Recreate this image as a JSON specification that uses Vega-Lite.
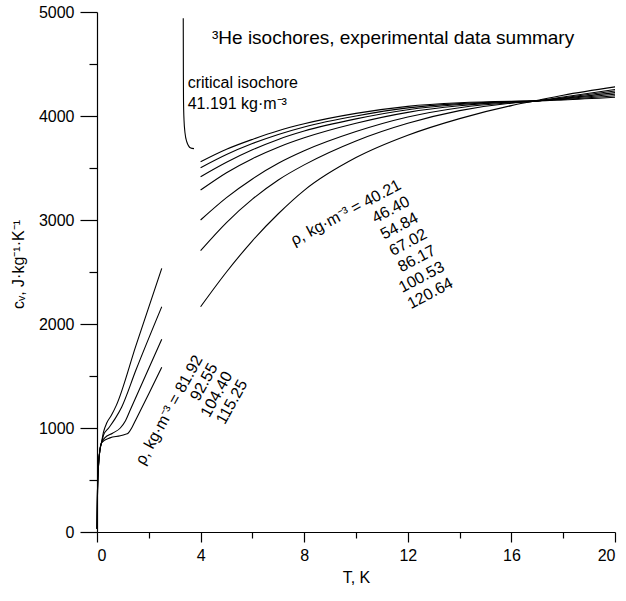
{
  "$schema": "https://vega.github.io/schema/vega-lite/v6.json",
  "width": 518,
  "height": 520,
  "autosize": {"type": "none"},
  "padding": {"left": 97, "top": 12, "right": 11, "bottom": 69},
  "background": "white",
  "config": {
    "view": {"stroke": null},
    "font": "Liberation Sans",
    "axis": {
      "grid": false,
      "domainColor": "black",
      "tickColor": "black",
      "labelColor": "black",
      "titleColor": "black",
      "labelFont": "Liberation Sans",
      "titleFont": "Liberation Sans",
      "labelFontSize": 16,
      "titleFontSize": 16,
      "titleFontWeight": "normal",
      "domainWidth": 1.2,
      "tickWidth": 1.2
    }
  },
  "datasets": {
    "high": [
      {"series": "40.21", "T": 4, "cv": 3560}, {"series": "40.21", "T": 5, "cv": 3680}, {"series": "40.21", "T": 6, "cv": 3775}, {"series": "40.21", "T": 7, "cv": 3858}, {"series": "40.21", "T": 8, "cv": 3925}, {"series": "40.21", "T": 10, "cv": 4025}, {"series": "40.21", "T": 12, "cv": 4093}, {"series": "40.21", "T": 14, "cv": 4127}, {"series": "40.21", "T": 16, "cv": 4142}, {"series": "40.21", "T": 16.8, "cv": 4145}, {"series": "40.21", "T": 18, "cv": 4155}, {"series": "40.21", "T": 20, "cv": 4180},
      {"series": "46.40", "T": 4, "cv": 3503}, {"series": "46.40", "T": 5, "cv": 3630}, {"series": "46.40", "T": 6, "cv": 3735}, {"series": "46.40", "T": 7, "cv": 3823}, {"series": "46.40", "T": 8, "cv": 3895}, {"series": "46.40", "T": 10, "cv": 4000}, {"series": "46.40", "T": 12, "cv": 4078}, {"series": "46.40", "T": 14, "cv": 4119}, {"series": "46.40", "T": 16, "cv": 4140}, {"series": "46.40", "T": 16.8, "cv": 4144}, {"series": "46.40", "T": 18, "cv": 4160}, {"series": "46.40", "T": 20, "cv": 4195},
      {"series": "54.84", "T": 4, "cv": 3416}, {"series": "54.84", "T": 5, "cv": 3555}, {"series": "54.84", "T": 6, "cv": 3675}, {"series": "54.84", "T": 7, "cv": 3775}, {"series": "54.84", "T": 8, "cv": 3855}, {"series": "54.84", "T": 10, "cv": 3972}, {"series": "54.84", "T": 12, "cv": 4060}, {"series": "54.84", "T": 14, "cv": 4110}, {"series": "54.84", "T": 16, "cv": 4137}, {"series": "54.84", "T": 16.8, "cv": 4143}, {"series": "54.84", "T": 18, "cv": 4165}, {"series": "54.84", "T": 20, "cv": 4210},
      {"series": "67.02", "T": 4, "cv": 3288}, {"series": "67.02", "T": 5, "cv": 3455}, {"series": "67.02", "T": 6, "cv": 3590}, {"series": "67.02", "T": 7, "cv": 3700}, {"series": "67.02", "T": 8, "cv": 3790}, {"series": "67.02", "T": 10, "cv": 3930}, {"series": "67.02", "T": 12, "cv": 4035}, {"series": "67.02", "T": 14, "cv": 4098}, {"series": "67.02", "T": 16, "cv": 4134}, {"series": "67.02", "T": 16.8, "cv": 4142}, {"series": "67.02", "T": 18, "cv": 4170}, {"series": "67.02", "T": 20, "cv": 4225},
      {"series": "86.17", "T": 4, "cv": 3000}, {"series": "86.17", "T": 5, "cv": 3215}, {"series": "86.17", "T": 6, "cv": 3395}, {"series": "86.17", "T": 7, "cv": 3545}, {"series": "86.17", "T": 8, "cv": 3665}, {"series": "86.17", "T": 10, "cv": 3850}, {"series": "86.17", "T": 12, "cv": 3990}, {"series": "86.17", "T": 14, "cv": 4080}, {"series": "86.17", "T": 16, "cv": 4128}, {"series": "86.17", "T": 16.8, "cv": 4140}, {"series": "86.17", "T": 18, "cv": 4175}, {"series": "86.17", "T": 20, "cv": 4240},
      {"series": "100.53", "T": 4, "cv": 2705}, {"series": "100.53", "T": 5, "cv": 2975}, {"series": "100.53", "T": 6, "cv": 3200}, {"series": "100.53", "T": 7, "cv": 3385}, {"series": "100.53", "T": 8, "cv": 3530}, {"series": "100.53", "T": 10, "cv": 3760}, {"series": "100.53", "T": 12, "cv": 3930}, {"series": "100.53", "T": 14, "cv": 4052}, {"series": "100.53", "T": 16, "cv": 4124}, {"series": "100.53", "T": 16.8, "cv": 4140}, {"series": "100.53", "T": 18, "cv": 4182}, {"series": "100.53", "T": 20, "cv": 4255},
      {"series": "120.64", "T": 4, "cv": 2166}, {"series": "120.64", "T": 5, "cv": 2500}, {"series": "120.64", "T": 6, "cv": 2800}, {"series": "120.64", "T": 7, "cv": 3060}, {"series": "120.64", "T": 8, "cv": 3285}, {"series": "120.64", "T": 10, "cv": 3600}, {"series": "120.64", "T": 12, "cv": 3815}, {"series": "120.64", "T": 14, "cv": 3975}, {"series": "120.64", "T": 16, "cv": 4100}, {"series": "120.64", "T": 16.8, "cv": 4140}, {"series": "120.64", "T": 18, "cv": 4200}, {"series": "120.64", "T": 20, "cv": 4280}
    ],
    "low": [
      {"series": "81.92", "T": 0, "cv": 30}, {"series": "81.92", "T": 0.02, "cv": 400}, {"series": "81.92", "T": 0.06, "cv": 650}, {"series": "81.92", "T": 0.12, "cv": 800}, {"series": "81.92", "T": 0.18, "cv": 870}, {"series": "81.92", "T": 0.25, "cv": 960}, {"series": "81.92", "T": 0.38, "cv": 1050}, {"series": "81.92", "T": 0.55, "cv": 1120}, {"series": "81.92", "T": 0.75, "cv": 1220}, {"series": "81.92", "T": 1.5, "cv": 1790}, {"series": "81.92", "T": 2.5, "cv": 2535},
      {"series": "92.55", "T": 0, "cv": 30}, {"series": "92.55", "T": 0.02, "cv": 400}, {"series": "92.55", "T": 0.06, "cv": 650}, {"series": "92.55", "T": 0.12, "cv": 800}, {"series": "92.55", "T": 0.18, "cv": 860}, {"series": "92.55", "T": 0.25, "cv": 930}, {"series": "92.55", "T": 0.45, "cv": 1000}, {"series": "92.55", "T": 0.7, "cv": 1090}, {"series": "92.55", "T": 0.95, "cv": 1200}, {"series": "92.55", "T": 1.5, "cv": 1555}, {"series": "92.55", "T": 2.5, "cv": 2166},
      {"series": "104.40", "T": 0, "cv": 30}, {"series": "104.40", "T": 0.02, "cv": 400}, {"series": "104.40", "T": 0.06, "cv": 650}, {"series": "104.40", "T": 0.12, "cv": 800}, {"series": "104.40", "T": 0.18, "cv": 860}, {"series": "104.40", "T": 0.3, "cv": 905}, {"series": "104.40", "T": 0.6, "cv": 950}, {"series": "104.40", "T": 0.9, "cv": 1000}, {"series": "104.40", "T": 1.1, "cv": 1070}, {"series": "104.40", "T": 1.27, "cv": 1165}, {"series": "104.40", "T": 2.5, "cv": 1853},
      {"series": "115.25", "T": 0, "cv": 30}, {"series": "115.25", "T": 0.02, "cv": 400}, {"series": "115.25", "T": 0.06, "cv": 650}, {"series": "115.25", "T": 0.12, "cv": 800}, {"series": "115.25", "T": 0.18, "cv": 860}, {"series": "115.25", "T": 0.5, "cv": 905}, {"series": "115.25", "T": 0.9, "cv": 925}, {"series": "115.25", "T": 1.1, "cv": 940}, {"series": "115.25", "T": 1.2, "cv": 950}, {"series": "115.25", "T": 1.35, "cv": 1005}, {"series": "115.25", "T": 1.5, "cv": 1080}, {"series": "115.25", "T": 2.0, "cv": 1330}, {"series": "115.25", "T": 2.5, "cv": 1584}
    ],
    "critical": [
      {"series": "41.191", "T": 3.33, "cv": 4940}, {"series": "41.191", "T": 3.335, "cv": 4400}, {"series": "41.191", "T": 3.34, "cv": 4150}, {"series": "41.191", "T": 3.36, "cv": 3960}, {"series": "41.191", "T": 3.4, "cv": 3834}, {"series": "41.191", "T": 3.47, "cv": 3750}, {"series": "41.191", "T": 3.53, "cv": 3715}, {"series": "41.191", "T": 3.62, "cv": 3692}, {"series": "41.191", "T": 3.745, "cv": 3686}
    ],
    "title": [
      {"T": 4.44, "cv": 4750, "label": "³He isochores, experimental data summary"}
    ],
    "notes": [
      {"T": 3.5, "cv": 4320, "label": "critical isochore"},
      {"T": 3.5, "cv": 4118, "label": "41.191 kg·m⁻³"}
    ],
    "upper": [
      {"T": 11.78, "cv": 3304, "label": "ρ, kg·m⁻³ = 40.21\n46.40\n54.84\n67.02\n86.17\n100.53\n120.64"}
    ],
    "lower": [
      {"T": 4.1, "cv": 1665, "label": "ρ, kg·m⁻³ = 81.92\n92.55\n104.40\n115.25"}
    ]
  },
  "layer": [
    {
      "data": {"name": "high"},
      "mark": {"type": "line", "color": "black", "strokeWidth": 1.1, "interpolate": "monotone"},
      "encoding": {
        "x": {"field": "T", "type": "quantitative", "scale": {"domain": [0, 20], "nice": false},
          "axis": {"orient": "bottom", "values": [0, 4, 8, 12, 16, 20], "format": "d", "tickSize": 10, "labelPadding": 5, "title": "T, K", "titlePadding": 6}},
        "y": {"field": "cv", "type": "quantitative", "scale": {"domain": [0, 5000], "nice": false},
          "axis": {"orient": "left", "values": [0, 1000, 2000, 3000, 4000, 5000], "format": "d", "tickSize": 17, "labelPadding": 6, "title": "cᵥ, J·kg⁻¹·K⁻¹", "titlePadding": 12, "titleY": 252}},
        "detail": {"field": "series"}
      }
    },
    {
      "data": {"name": "low"},
      "mark": {"type": "line", "color": "black", "strokeWidth": 1.1, "interpolate": "monotone"},
      "encoding": {
        "x": {"field": "T", "type": "quantitative", "scale": {"domain": [0, 20], "nice": false},
          "axis": {"orient": "bottom", "values": [2, 6, 10, 14, 18], "tickSize": 6, "labels": false, "domain": false, "title": null}},
        "y": {"field": "cv", "type": "quantitative", "scale": {"domain": [0, 5000], "nice": false},
          "axis": {"orient": "left", "values": [500, 1500, 2500, 3500, 4500], "tickSize": 8, "labels": false, "domain": false, "title": null}},
        "detail": {"field": "series"}
      }
    },
    {
      "data": {"name": "critical"},
      "mark": {"type": "line", "color": "black", "strokeWidth": 1.1, "interpolate": "monotone"},
      "encoding": {
        "x": {"field": "T", "type": "quantitative", "scale": {"domain": [0, 20], "nice": false}, "axis": null},
        "y": {"field": "cv", "type": "quantitative", "scale": {"domain": [0, 5000], "nice": false}, "axis": null},
        "detail": {"field": "series"}
      }
    },
    {
      "data": {"name": "title"},
      "mark": {"type": "text", "align": "left", "baseline": "middle", "fontSize": 19, "font": "Liberation Sans", "color": "black"},
      "encoding": {
        "x": {"field": "T", "type": "quantitative", "scale": {"domain": [0, 20], "nice": false}, "axis": null},
        "y": {"field": "cv", "type": "quantitative", "scale": {"domain": [0, 5000], "nice": false}, "axis": null},
        "text": {"field": "label"}
      }
    },
    {
      "data": {"name": "notes"},
      "mark": {"type": "text", "align": "left", "baseline": "middle", "fontSize": 16, "font": "Liberation Sans", "color": "black"},
      "encoding": {
        "x": {"field": "T", "type": "quantitative", "scale": {"domain": [0, 20], "nice": false}, "axis": null},
        "y": {"field": "cv", "type": "quantitative", "scale": {"domain": [0, 5000], "nice": false}, "axis": null},
        "text": {"field": "label"}
      }
    },
    {
      "data": {"name": "upper"},
      "mark": {"type": "text", "align": "right", "baseline": "alphabetic", "angle": -28, "lineBreak": "\n", "lineHeight": 18.5, "fontSize": 16, "font": "Liberation Sans", "color": "black"},
      "encoding": {
        "x": {"field": "T", "type": "quantitative", "scale": {"domain": [0, 20], "nice": false}, "axis": null},
        "y": {"field": "cv", "type": "quantitative", "scale": {"domain": [0, 5000], "nice": false}, "axis": null},
        "text": {"field": "label"}
      }
    },
    {
      "data": {"name": "lower"},
      "mark": {"type": "text", "align": "right", "baseline": "alphabetic", "angle": -61, "lineBreak": "\n", "lineHeight": 17, "fontSize": 16, "font": "Liberation Sans", "color": "black"},
      "encoding": {
        "x": {"field": "T", "type": "quantitative", "scale": {"domain": [0, 20], "nice": false}, "axis": null},
        "y": {"field": "cv", "type": "quantitative", "scale": {"domain": [0, 5000], "nice": false}, "axis": null},
        "text": {"field": "label"}
      }
    }
  ],
  "resolve": {"axis": {"x": "independent", "y": "independent"}}
}
